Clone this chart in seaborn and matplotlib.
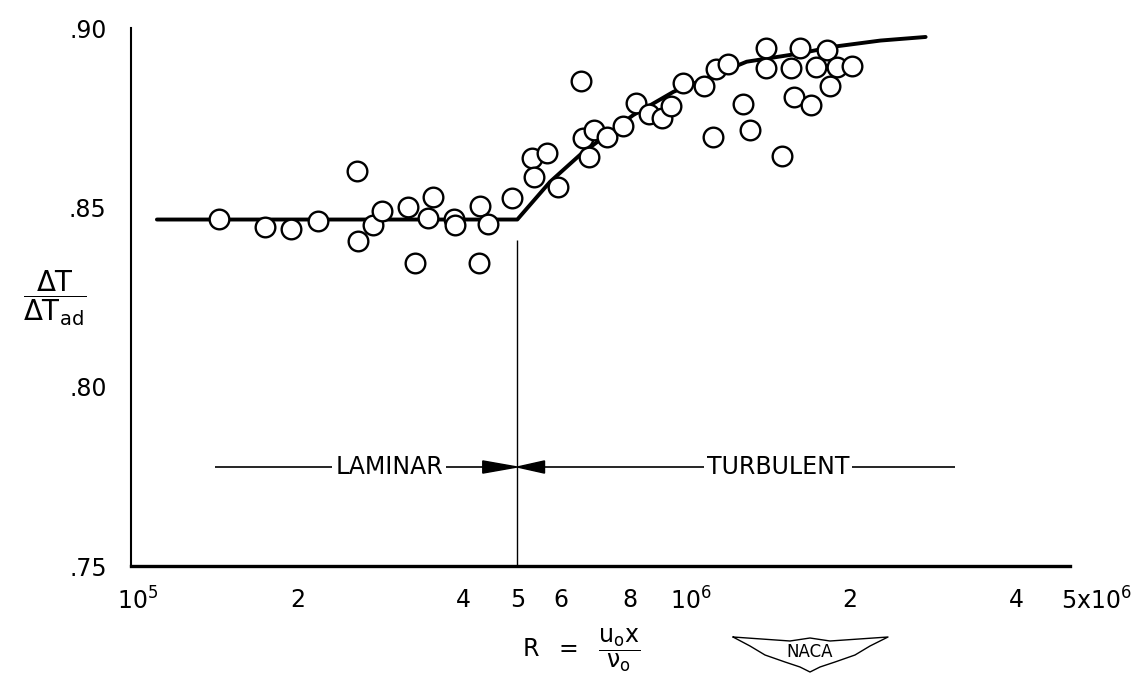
import matplotlib
matplotlib.use('Agg')
import matplotlib.pyplot as plt
import matplotlib.transforms as mtransforms
from matplotlib.lines import Line2D
from matplotlib.ticker import NullLocator
import seaborn as sns

# measured points (Reynolds number R, dT/dT_ad)
reynolds = [1.444e5, 1.748e5, 1.948e5, 2.177e5, 2.567e5, 2.578e5, 2.745e5, 2.842e5,
            3.167e5, 3.261e5, 3.524e5, 3.451e5, 3.840e5, 3.856e5, 4.280e5, 4.268e5,
            4.431e5, 4.885e5,
            5.325e5, 5.657e5, 5.359e5, 5.922e5, 6.749e5, 6.511e5, 6.567e5, 6.890e5,
            7.273e5, 7.755e5, 8.199e5, 8.666e5, 9.125e5, 9.473e5, 9.959e5, 1.088e6,
            1.144e6, 1.204e6, 1.279e6, 1.129e6, 1.318e6, 1.409e6, 1.408e6, 1.504e6,
            1.584e6, 1.624e6, 1.564e6, 1.698e6, 1.814e6, 1.736e6, 1.840e6, 1.892e6,
            2.014e6]
temp_ratio = [0.8467, 0.8446, 0.8439, 0.8463, 0.8602, 0.8406, 0.8451, 0.8491,
              0.8502, 0.8346, 0.8530, 0.8469, 0.8467, 0.8451, 0.8504, 0.8346,
              0.8453, 0.8527,
              0.8637, 0.8652, 0.8584, 0.8557, 0.8639, 0.8851, 0.8692, 0.8716,
              0.8697, 0.8727, 0.8792, 0.8760, 0.8748, 0.8783, 0.8846, 0.8838,
              0.8885, 0.8900, 0.8788, 0.8697, 0.8716, 0.8943, 0.8888, 0.8643,
              0.8807, 0.8943, 0.8888, 0.8785, 0.8939, 0.8890, 0.8838, 0.8890,
              0.8894]

# faired curve
curve_r = [1.114e5, 5.0e5, 5.73e5, 6.49e5, 8.10e5, 9.58e5, 1.30e6, 1.62e6,
           1.87e6, 2.27e6, 2.74e6]
curve_v = [0.8466, 0.8466, 0.8571, 0.8646, 0.8757, 0.8822, 0.8906, 0.8929,
           0.8948, 0.8965, 0.8975]

x_ticks = [1e5, 2e5, 4e5, 5e5, 6e5, 8e5, 1e6, 2e6, 4e6, 5e6]
x_labels = ['$10^5$', '2', '4', '5', '6', '8', '$10^6$', '2', '4', '5x$10^6$']
y_ticks = [0.75, 0.80, 0.85, 0.90]
y_labels = ['.75', '.80', '.85', '.90']

transition_r = 5e5
band_y = 0.7776

sns.set_style('white')
plt.rcParams['font.family'] = ['DejaVu Sans']
plt.rcParams['mathtext.default'] = 'regular'
plt.rcParams['text.color'] = 'black'
plt.rcParams['axes.labelcolor'] = 'black'

W, H = 1134, 681
fig = plt.figure(figsize=(W / 100, H / 100), dpi=100)
ax = fig.add_axes([131 / W, 115 / H, 939 / W, 538 / H])

sns.lineplot(x=curve_r, y=curve_v, sort=False, estimator=None, color='black',
             linewidth=2.8, ax=ax, zorder=2)
sns.scatterplot(x=reynolds, y=temp_ratio, marker='o', s=200, color='white',
                edgecolor='black', linewidth=1.7, ax=ax, zorder=3)

ax.set_xscale('log')
ax.set_xlim(1e5, 5e6)
ax.set_ylim(0.75, 0.90)

# transition line and laminar / turbulent band
ax.vlines(transition_r, 0.75, 0.8409, color='black', linewidth=1.0, zorder=1)
ax.hlines(band_y, 1.42e5, 4.33e5, color='black', linewidth=1.2)
ax.hlines(band_y, 5.6e5, 3.1e6, color='black', linewidth=1.2)
h = 0.0017
ax.fill([4.33e5, transition_r, 4.33e5], [band_y + h, band_y, band_y - h], color='black')
ax.fill([5.6e5, transition_r, 5.6e5], [band_y + h, band_y, band_y - h], color='black')
box = dict(facecolor='white', edgecolor='none', pad=2)
ax.text(2.93e5, band_y, 'LAMINAR', fontsize=17, ha='center', va='center',
        color='black', bbox=box, zorder=4)
ax.text(1.48e6, band_y, 'TURBULENT', fontsize=17, ha='center', va='center',
        color='black', bbox=box, zorder=4)

# axes styling
for side in ['top', 'right']:
    ax.spines[side].set_visible(False)
ax.spines['left'].set_linewidth(1.5)
ax.spines['left'].set_color('black')
ax.spines['bottom'].set_linewidth(2.4)
ax.spines['bottom'].set_color('black')
ax.set_xticks(x_ticks, x_labels)
ax.xaxis.set_minor_locator(NullLocator())
ax.set_yticks(y_ticks, y_labels)
ax.tick_params(axis='both', direction='out', length=9.5, width=1.4, labelsize=17,
               colors='black')
ax.tick_params(axis='x', pad=6)
ax.tick_params(axis='y', pad=8)

# superscripted labels hang to the right of the tick
for i, dx in [(0, 5), (6, 5), (9, 19)]:
    lbl = ax.get_xticklabels()[i]
    lbl.set_transform(lbl.get_transform() +
                      mtransforms.ScaledTranslation(dx / 72, 0, fig.dpi_scale_trans))

ax.set_ylabel(r'$\dfrac{\Delta T}{\Delta T_{ad}}$', rotation=0, fontsize=20,
              ha='center', va='center', color='black')
ax.yaxis.set_label_coords(-0.081, 0.498)
ax.set_xlabel(r'$R\ \ =\ \ \dfrac{u_o x}{\nu_o}$', fontsize=17, ha='center',
              va='center', color='black')
ax.xaxis.set_label_coords(0.479, -0.156)

# NACA wing mark
wing_px = [(733, 637), (790, 641), (810, 638), (830, 641), (888, 637), (870, 646),
           (855, 655), (835, 662), (820, 667), (810, 672), (800, 667), (785, 662),
           (765, 655), (750, 646), (733, 637)]
fig.add_artist(Line2D([p[0] / W for p in wing_px], [1 - p[1] / H for p in wing_px],
                      color='black', linewidth=1.0))
fig.text(810 / W, 1 - 652 / H, 'NACA', fontsize=12, ha='center', va='center',
         color='black')

fig.savefig('out.png', dpi=100, facecolor='white')
